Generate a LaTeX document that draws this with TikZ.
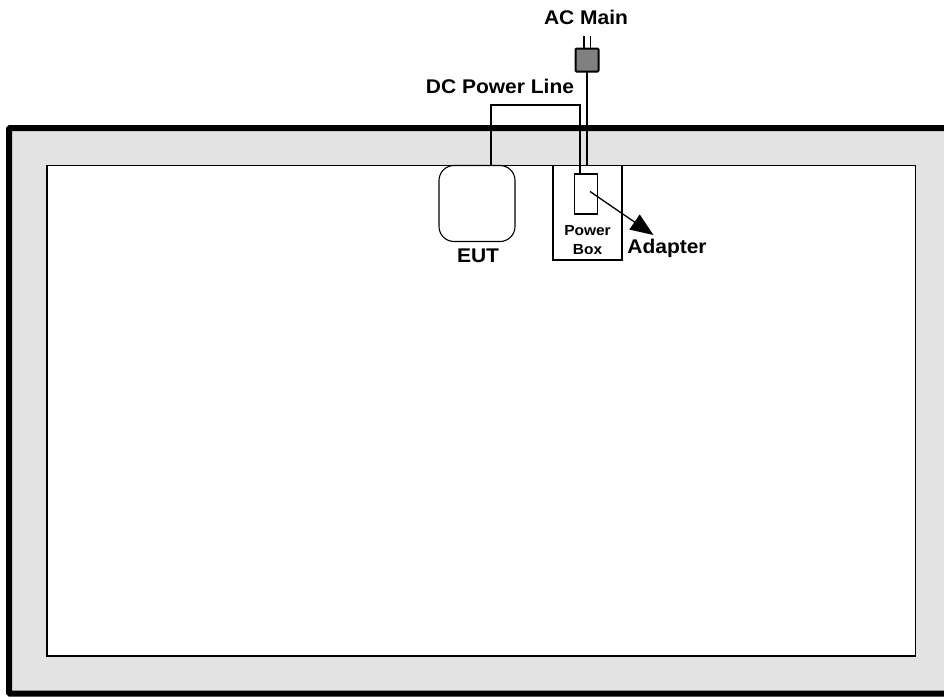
\documentclass[tikz,border=0pt]{standalone}
\usepackage{fontspec}
\setmainfont{Liberation Sans}
\newfontfamily\widefont[FakeStretch=1.06,BoldFont={Liberation Sans Bold}]{Liberation Sans}
\usetikzlibrary{arrows.meta,calc}
\tikzset{
  px/.style={x=1pt,y=-1pt},
  boxnode/.style={draw=black,line width=1.1pt,inner sep=0pt,outer sep=0pt,anchor=north west,fill=white},
  lbl/.style={font=\widefont\fontsize{19.8}{20}\bfseries\selectfont,inner sep=0pt,text=black},
  small/.style={font=\widefont\fontsize{14.6}{19}\bfseries\selectfont,inner sep=0pt,align=center,text=black},
  wire/.style={line width=1.4pt,draw=black},
}
\begin{document}
\begin{tikzpicture}[px]
\useasboundingbox (0,0) rectangle (944,696);
\fill[white] (0,0) rectangle (944,696);
% outer wall
\path[clip] (0,0) rectangle (944,696);
\filldraw[fill=black!11,draw=black,line width=6pt,rounded corners=1pt] (9,128) rectangle (960,693.5);
% room
\node[boxnode,line width=1.3pt,minimum width=868.5pt,minimum height=490.5pt] (room) at (47,165.5) {};
% EUT
\node[boxnode,rounded corners=15pt,minimum width=76pt,minimum height=76pt] (eut) at (439,165.5) {};
% Power box
\node[boxnode,minimum width=69pt,minimum height=94.5pt] (pbox) at (553,165.5) {};
% Adapter
\node[boxnode,minimum width=23pt,minimum height=40pt] (adapter) at (574.5,174) {};
% Plug
\node[boxnode,fill=black!50,line width=2pt,rounded corners=1pt,minimum width=23pt,minimum height=23pt] (plug) at (575.5,48.5) {};
\coordinate (pinA) at (584,36);
\coordinate (pinB) at (590.5,36);
\draw[wire,line width=1.2pt] (pinA) -- (pinA |- plug.north);
\draw[wire,line width=1.2pt] (pinB) -- (pinB |- plug.north);
% wires
\coordinate (acin) at (587,165.5);
\draw[wire] (plug.south -| acin) -- (acin);
\coordinate (dcA) at (491,105);
\coordinate (dcB) at (580,105);
\draw[wire,line width=1.2pt] (dcA |- eut.north) -- (dcA) -- (dcB) -- (dcB |- adapter.north);
% arrow
\coordinate (arrowstart) at (590,191.5);
\coordinate (arrowend) at (653.5,235);
\draw[line width=1.3pt,-{Triangle[length=23pt,width=18pt]}] (arrowstart) -- (arrowend);
% labels
\node[lbl] (tac) at (586,17) {AC Main};
\node[lbl] (tdc) at (500,86) {DC Power Line};
\node[lbl] (teut) at (478,256) {EUT};
\node[lbl] (tad) at (667,248) {Adapter};
\node[small] (tpb) at (587.5,240) {Power\\Box};
\end{tikzpicture}
\end{document}
